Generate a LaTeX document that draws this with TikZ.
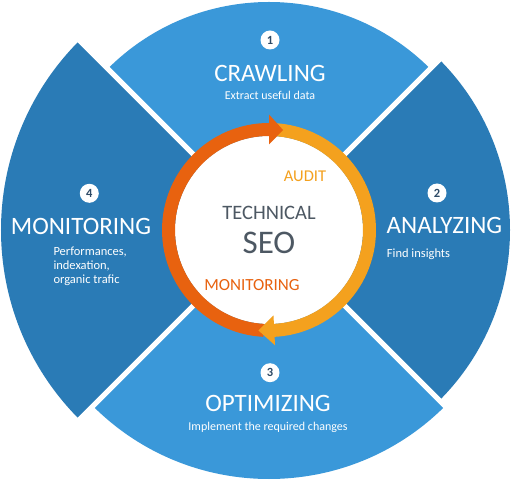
\documentclass[tikz,border=0pt]{standalone}
\usepackage{fontspec}
\setmainfont{Carlito}
\usetikzlibrary{calc}
\definecolor{lblue}{HTML}{3A98D9}
\definecolor{dblue}{HTML}{2A7BB6}
\definecolor{lorange}{HTML}{F4A11E}
\definecolor{dorange}{HTML}{E8620F}
\definecolor{numcol}{HTML}{2E4A66}
\definecolor{greytext}{HTML}{4D5863}
\tikzset{
  numbadge/.style={circle,fill=white,minimum size=19pt,inner sep=0pt,text=numcol,font=\bfseries\fontsize{12.5}{12.5}\selectfont},
  bigtitle/.style={text=white,inner sep=0pt,anchor=base,font=\fontsize{25}{25}\selectfont},
  subtext/.style={text=white,inner sep=0pt,anchor=base,font=\fontsize{12.5}{14}\selectfont},
  ringpart/.style={line width=13pt},
  gapline/.style={white,line width=5pt}
}
\begin{document}
\begin{tikzpicture}[x=1pt,y=1pt]
\useasboundingbox (0,0) rectangle (511,482);
\fill[white] (0,0) rectangle (511,482);
\coordinate (O) at (269,252);
% sectors
\fill[lblue] (O) -- ++(45:228) arc[start angle=45,end angle=135,radius=228pt] -- cycle;
\fill[dblue] (O) -- ++(135:268) arc[start angle=135,end angle=225,radius=268pt] -- cycle;
\fill[lblue] (O) -- ++(225:249) arc[start angle=225,end angle=315,radius=249pt] -- cycle;
\fill[dblue] (O) -- ++(-45:241) arc[start angle=-45,end angle=45,radius=241pt] -- cycle;
\foreach \a in {45,135,225,315} \draw[gapline] (O) -- ++(\a:280);
% ring
\fill[white] (O) circle[radius=94pt];
\draw[ringpart,lorange] (O) ++(-88:100.5) arc[start angle=-88,end angle=90,radius=100.5pt];
\draw[ringpart,dorange] (O) ++(90:100.5) arc[start angle=90,end angle=267,radius=100.5pt];
\fill[dorange] ($(O)+(90:85.5)$) -- ($(O)+(90:115.5)$) -- ($(O)+(82:101)$) -- cycle;
\fill[lorange] ($(O)+(-87:85.5)$) -- ($(O)+(-87:115.5)$) -- ($(O)+(-96:101)$) -- cycle;
% center texts
\node[inner sep=0pt,anchor=base,text=greytext,font=\fontsize{20.5}{20.5}\selectfont] (tech) at (269,262) {TECHNICAL};
\node[inner sep=0pt,anchor=base,text=greytext,font=\fontsize{33}{33}\selectfont] (seo) at (269,228.7) {SEO};
\node[inner sep=0pt,anchor=base,text=lorange,font=\fontsize{16.5}{16.5}\selectfont] (audit) at (305,300.3) {AUDIT};
\node[inner sep=0pt,anchor=base,text=dorange,font=\fontsize{17}{17}\selectfont] (mon) at (252,191) {MONITORING};
% 1 crawling
\node[numbadge] (n1) at (270,442) {1};
\node[bigtitle] (crawl) at (270,400) {CRAWLING};
\node[subtext,font=\fontsize{12}{14}\selectfont] (crawlsub) at (270,382) {Extract useful data};
% 2 analyzing
\node[numbadge] (n2) at (437,289) {2};
\node[bigtitle,anchor=base west] (anal) at (386.5,248) {ANALYZING};
\node[subtext,anchor=base west] (analsub) at (386.7,224) {Find insights};
% 3 optimizing
\node[numbadge] (n3) at (270,109.3) {3};
\node[bigtitle] (opt) at (268,71) {OPTIMIZING};
\node[subtext,font=\fontsize{12}{14}\selectfont] (optsub) at (268,51.5) {Implement the required changes};
% 4 monitoring
\node[numbadge] (n4) at (89.3,288.7) {4};
\node[bigtitle] (moni) at (81,247) {MONITORING};
\node[subtext,anchor=base west] (perf1) at (53.3,226) {Performances,};
\node[subtext,anchor=base west] (perf2) at (53.3,212) {indexation,};
\node[subtext,anchor=base west] (perf3) at (53.3,198) {organic trafic};
\end{tikzpicture}
\end{document}
